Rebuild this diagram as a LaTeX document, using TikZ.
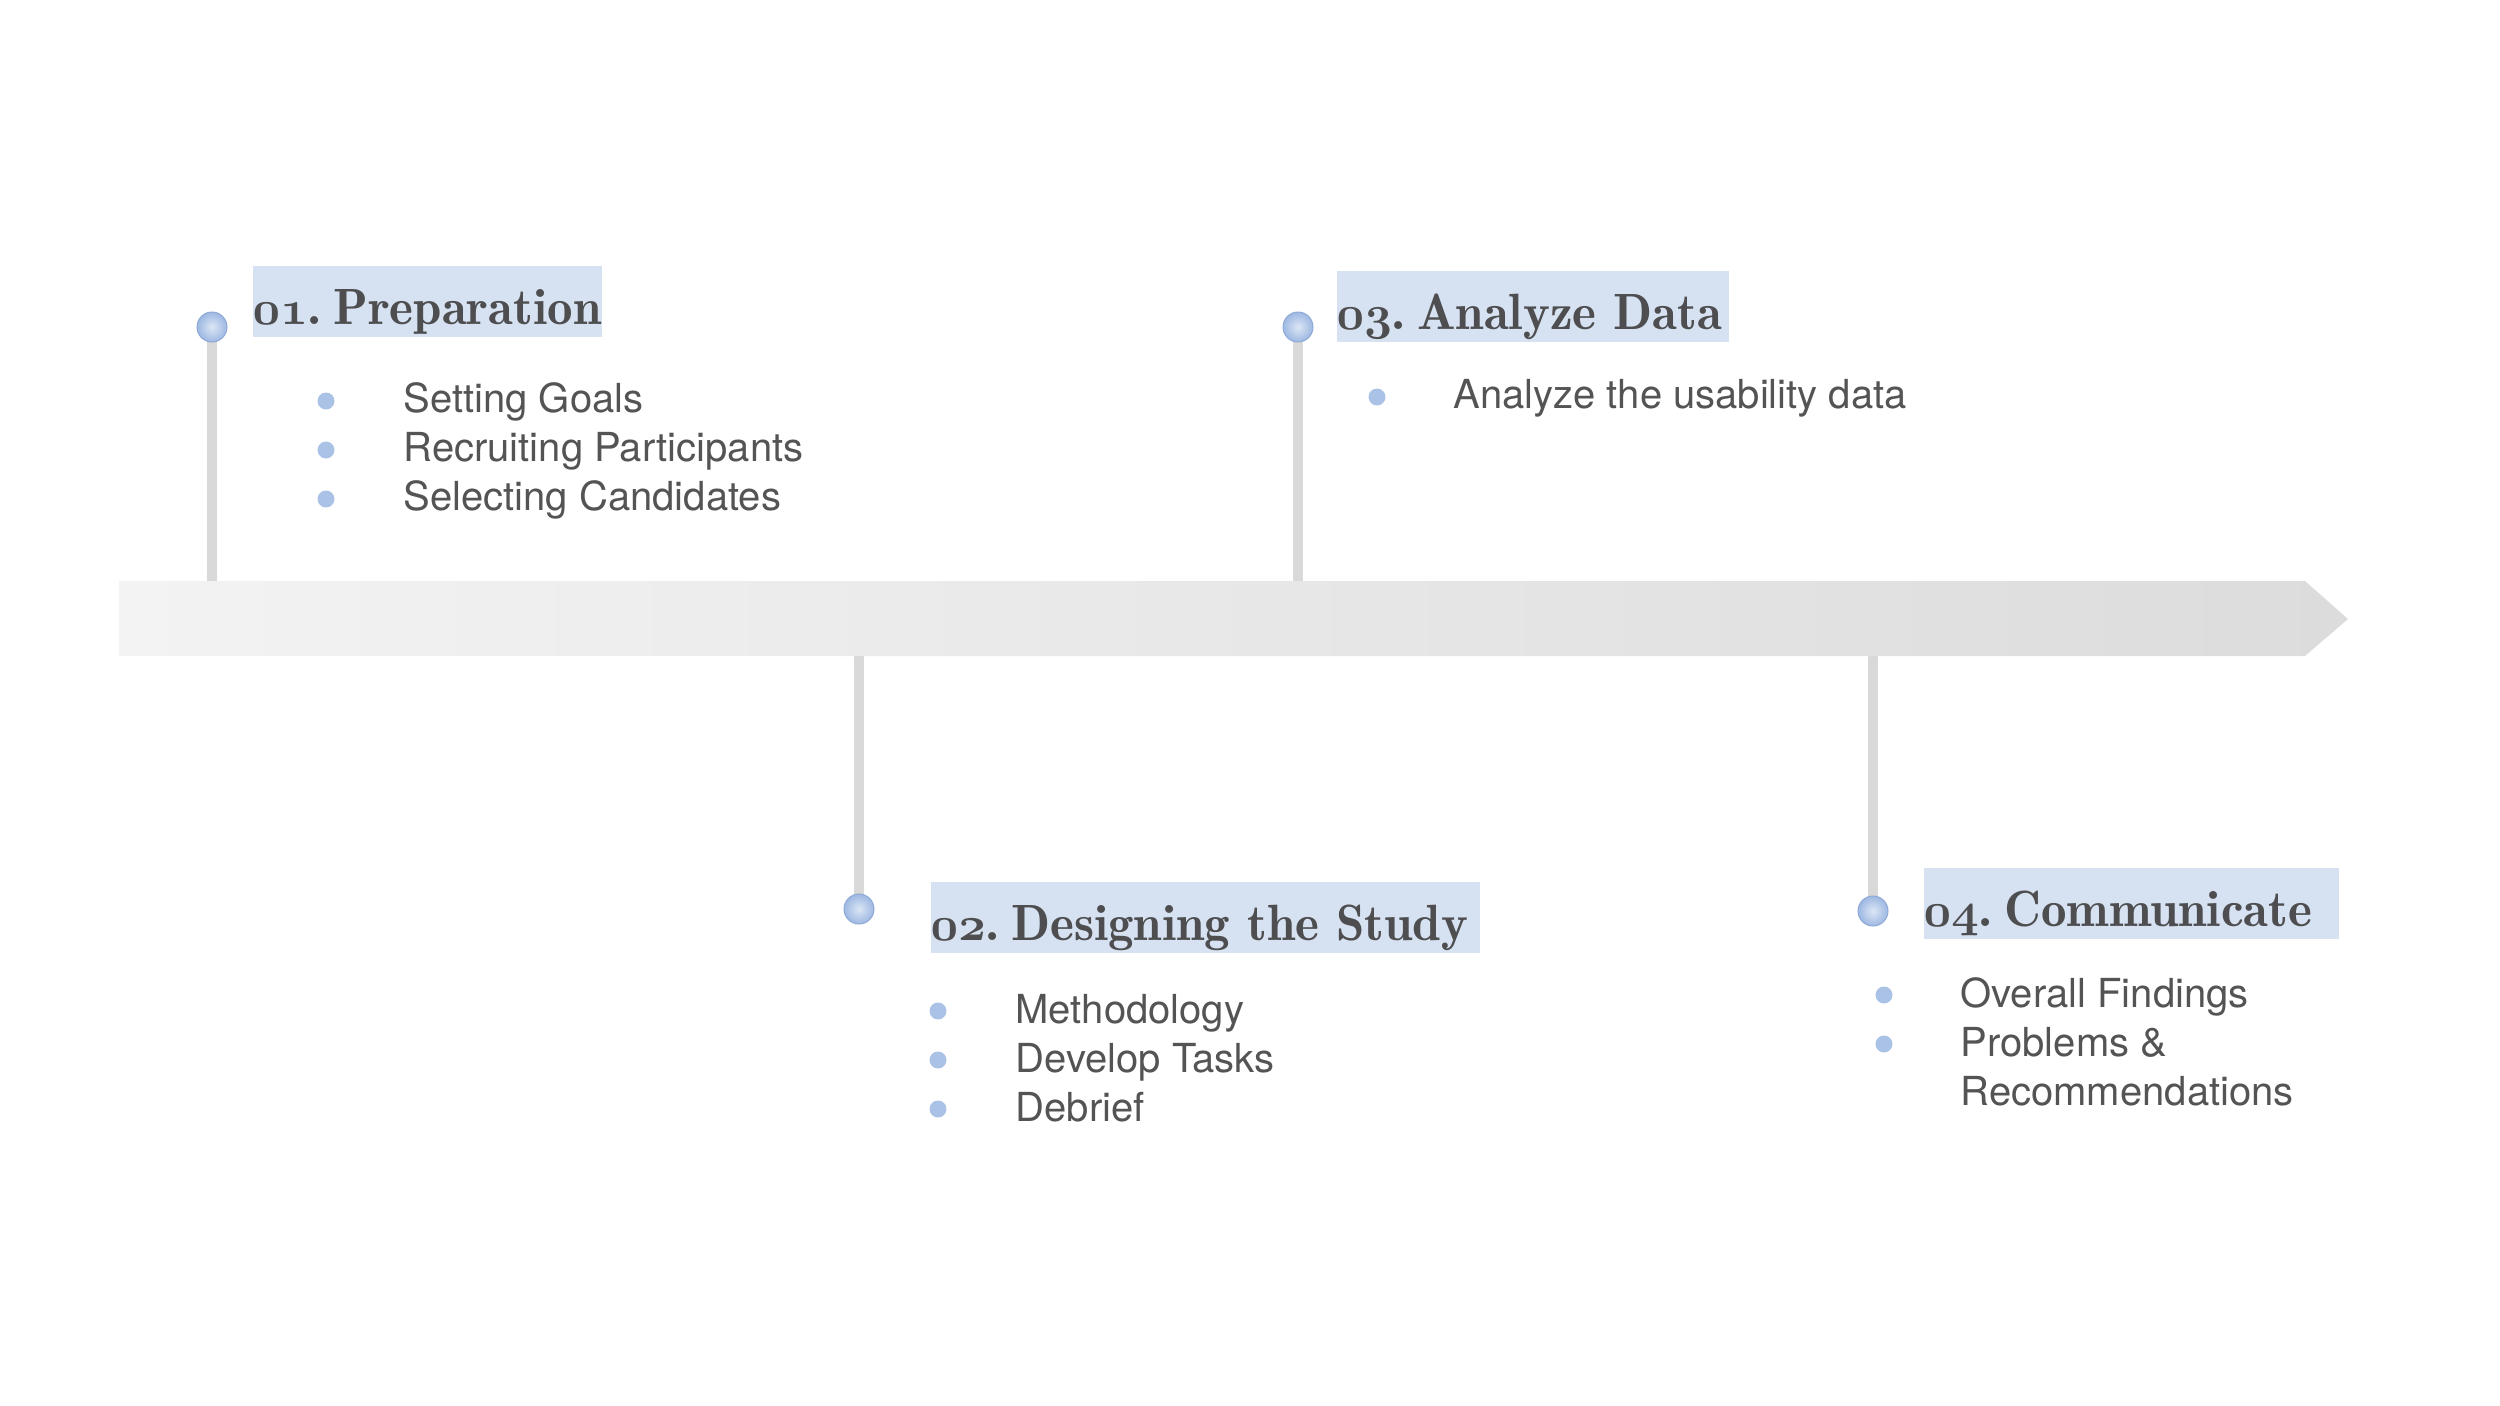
\documentclass[tikz,border=0pt]{standalone}
\usepackage{fontspec}
\newfontfamily\sansf{TeX Gyre Heros}
\newfontfamily\titlef{lmromandemi10-regular.otf}
\usetikzlibrary{shadings}
\pgfdeclarelayer{background}
\pgfsetlayers{background,main}
\definecolor{titleblue}{HTML}{D6E2F2}
\definecolor{dotblue}{HTML}{A9C2E6}
\definecolor{txtgray}{HTML}{545454}
\definecolor{ttlgray}{HTML}{4E4E50}
\definecolor{stemgray}{HTML}{D9D9D9}
\definecolor{barL}{HTML}{F3F3F3}
\definecolor{barR}{HTML}{DCDCDC}
\definecolor{ballin}{HTML}{DCE6F5}
\definecolor{ballout}{HTML}{9DB8E2}
\definecolor{ballrim}{HTML}{8FAAD6}
\newcommand{\osn}[1]{{\usefont{OML}{cmm}{b}{it}#1}}
\newcommand{\ttlnum}[1]{\osn{#1}.\hspace{0.22em}}
\begin{document}
\begin{tikzpicture}[x=0.3pt,y=-0.3pt,
  ttl/.style={fill=titleblue,inner xsep=0pt,inner ysep=0pt,text height=17.4pt,text depth=3.9pt,
    anchor=base west,text=ttlgray,font=\titlef\fontsize{15.3}{18}\selectfont},
  itm/.style={anchor=base west,inner sep=0pt,text=txtgray,font=\sansf\fontsize{12}{14.7}\selectfont},
  bdot/.style={circle,fill=dotblue,minimum size=5.1pt,inner sep=0pt},
  ball/.style={circle,minimum size=9pt,inner sep=0pt,inner color=ballin,outer color=ballout,draw=ballrim,line width=0.3pt},
  stem/.style={draw=stemgray,line width=3pt}]
\useasboundingbox (0,0) rectangle (2500,1406);
% timeline bar
\shade[left color=barL,right color=barR] (119,581) -- (2305,581) -- (2348,619) -- (2305,656) -- (119,656) -- cycle;
\coordinate (bartop) at (0,582);
\coordinate (barbot) at (0,655);
% balls
\node[ball] (c1) at (212,327) {};
\node[ball] (c3) at (1298,327) {};
\node[ball] (c2) at (859,909) {};
\node[ball] (c4) at (1873,911) {};
% stems
\begin{pgfonlayer}{background}
\draw[stem] (c1.center) -- (c1 |- bartop);
\draw[stem] (c3.center) -- (c3 |- bartop);
\draw[stem] (c2.center) -- (c2 |- barbot);
\draw[stem] (c4.center) -- (c4 |- barbot);
\end{pgfonlayer}
% titles
\node[ttl] (t1) at (252,324) {\makebox[104.7pt][l]{\ttlnum{01}Preparation}};
\node[ttl] (t3) at (1336,329) {\makebox[117.6pt][l]{\ttlnum{03}Analyze Data}};
\node[ttl] (t2) at (930,940) {\makebox[164.7pt][l]{\ttlnum{02}Designing the Study}};
\node[ttl] (t4) at (1923,926) {\makebox[124.5pt][l]{\ttlnum{04}Communicate}};
% items 1
\node[bdot] (d11) at (326,401) {};
\node[bdot] (d12) at (326,450) {};
\node[bdot] (d13) at (326,499) {};
\node[itm] (i11) at (403,412) {Setting Goals};
\node[itm] (i12) at (403,461) {Recruiting Participants};
\node[itm] (i13) at (403,510) {Selecting Candidates};
% items 3
\node[bdot] (d31) at (1377,397) {};
\node[itm] (i31) at (1453,408) {Analyze the usability data};
% items 2
\node[bdot] (d21) at (938,1011) {};
\node[bdot] (d22) at (938,1060) {};
\node[bdot] (d23) at (938,1109) {};
\node[itm] (i21) at (1015,1023) {Methodology};
\node[itm] (i22) at (1015,1072) {Develop Tasks};
\node[itm] (i23) at (1015,1121) {Debrief};
% items 4
\node[bdot] (d41) at (1884,995) {};
\node[bdot] (d42) at (1884,1044) {};
\node[itm] (i41) at (1960,1007) {Overall Findings};
\node[itm] (i42) at (1960,1056) {Problems \&};
\node[itm] (i43) at (1960,1105) {Recommendations};
\end{tikzpicture}
\end{document}
